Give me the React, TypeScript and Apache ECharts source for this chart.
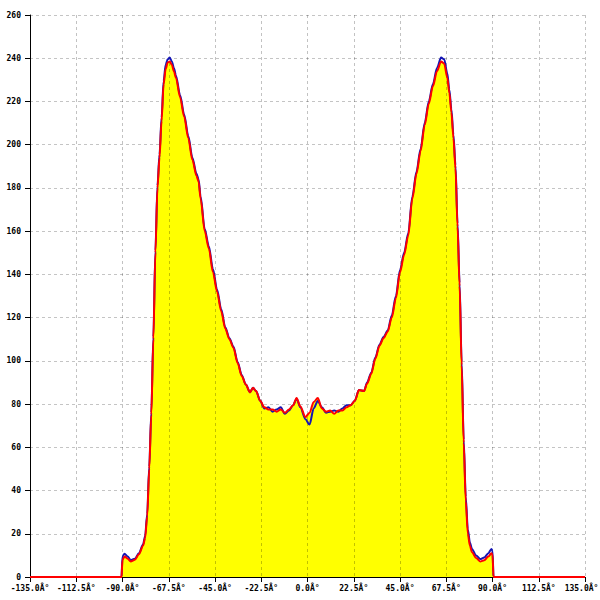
import React, { useEffect, useRef } from "react";
import * as echarts from "echarts";

const xDeg = [
  -135, -90.5, -90, -89, -87.5, -86, -84, -82, -80, -79, -78, -77, -76, -75, -74, -73, -72, -71, -70, -69,
  -68, -67, -66, -65, -64, -62, -60, -58, -56, -54, -53, -52, -50, -48, -46, -44, -42, -40, -38, -36,
  -34, -32, -30, -28, -26.5, -25, -23, -21, -19, -17, -15, -13, -11, -9, -7, -5.3, -3.5, -1, 1, 3,
  5, 7, 9, 11, 13, 15, 17, 19, 21, 23, 25, 27.5, 29, 31, 33, 35, 37, 39, 41, 43,
  45, 47, 49, 51, 53, 55, 57, 59, 61, 63, 65, 66.5, 68, 69, 70, 71, 72, 73, 74, 75,
  76, 77, 78, 79, 80, 82, 84, 86, 88, 89.5, 90, 90.5, 135,
];

const redVals = [
  0, 0, 8, 9.5, 8.5, 7.2, 8, 10.5, 14.5, 18, 28, 50, 75, 110, 150, 180, 194, 211, 228, 235,
  238, 238.5, 237, 234, 231, 222, 213, 203, 193, 185.5, 183, 175, 160, 152, 141, 132, 123, 115, 110, 106,
  99, 93, 89, 85.5, 87.5, 86, 81.5, 78.5, 77.5, 77.5, 76.5, 77.5, 76, 77.5, 79.5, 82.8, 79, 74, 76, 81,
  82.8, 78, 76.5, 77, 75.5, 77, 77, 78.5, 79.5, 81.5, 86.5, 86, 89.5, 94, 101, 107, 110.5, 113.5, 120, 129,
  141, 149, 158, 175, 186.5, 197, 209, 219, 227, 234, 238.5, 237.5, 231, 224, 215, 203, 189, 162, 134.5, 98,
  62, 35, 20, 14.5, 11.5, 8.8, 7.2, 7.8, 9.5, 11, 10.5, 0, 0,
];

const blueVals = [
  0, 0, 9.5, 10.8, 9.5, 7.8, 8.5, 11, 15, 19, 29, 51, 76, 111, 151, 181, 195.5, 212.5, 229.5, 237,
  239.5, 240.3, 238.5, 235.5, 232, 223, 214, 204, 194, 186.5, 184, 176, 161, 153, 142.5, 133, 124, 115.5, 110.5, 106.5,
  99.5, 93.5, 89, 85.5, 87.5, 86, 81.5, 78, 78.5, 76.5, 77.5, 78.5, 75.5, 77, 79.5, 82.5, 78.5, 73, 70.5, 78,
  81.4, 78.5, 76, 76.5, 77, 76.5, 78, 79.5, 79.5, 81.5, 86.5, 86, 90, 94.5, 101.5, 107.5, 111, 114, 121, 130,
  142, 150, 159, 176, 187.5, 198, 210, 220, 228, 235.5, 240.3, 239.5, 233, 225.5, 216.5, 204.5, 190.5, 163.5, 136, 99.5,
  63.5, 37, 22, 16, 13, 10, 8.3, 9, 11, 13, 12, 0, 0,
];

const X_MIN = -135;
const X_MAX = 135;
const X_STEP = 22.5;
const Y_MIN = 0;
const Y_MAX = 260;
const Y_STEP = 20;

export default function App() {
  const ref = useRef<HTMLDivElement>(null);

  useEffect(() => {
    if (!ref.current) return;
    const chart = echarts.init(ref.current, undefined, { renderer: "svg" });
    const red = xDeg.map((x, i) => [x, redVals[i]]);
    const blue = xDeg.map((x, i) => [x, blueVals[i]]);
    const labelFont = {
      fontFamily: "DejaVu Sans Mono",
      fontSize: 8,
      fontWeight: "bold" as const,
      color: "#000",
    };
    chart.setOption({
      animation: false,
      backgroundColor: "#ffffff",
      grid: {
        left: 30,
        right: 15,
        top: 15,
        bottom: 23,
        containLabel: false,
        outerBoundsMode: "none",
      },
      xAxis: [
        {
          type: "value",
          min: X_MIN,
          max: X_MAX,
          interval: X_STEP,
          axisLine: { show: true, onZero: false, lineStyle: { color: "#000", width: 1 } },
          axisTick: { show: true, length: 5, lineStyle: { color: "#000" } },
          axisLabel: {
            ...labelFont,
            margin: 7,
            hideOverlap: false,
            showMinLabel: true,
            showMaxLabel: true,
            formatter: (v: number) => {
              const t = v.toFixed(1) + "Â°";
              return v === X_MAX ? "{last|" + t + "}" : t;
            },
            rich: {
              last: { ...labelFont, padding: [0, 7, 0, 0] },
            },
          },
          splitLine: { show: false },
          z: 0,
        },
        {
          type: "value",
          min: X_MIN,
          max: X_MAX,
          interval: X_STEP,
          position: "bottom",
          axisLine: { show: false },
          axisTick: { show: false },
          axisLabel: { show: false },
          splitLine: {
            show: true,
            lineStyle: { color: "rgba(0,0,0,0.24)", type: [3, 3], width: 1 },
          },
          z: 2,
        },
      ],
      yAxis: {
        type: "value",
        min: Y_MIN,
        max: Y_MAX,
        interval: Y_STEP,
        axisLine: { show: true, onZero: false, lineStyle: { color: "#000", width: 1 } },
        axisTick: { show: true, length: 5, lineStyle: { color: "#000" } },
        axisLabel: { ...labelFont, margin: 9, showMinLabel: true, showMaxLabel: true },
        splitLine: {
          show: true,
          lineStyle: { color: "#c4c4c4", type: [3, 3], width: 1 },
        },
      },
      series: [
        {
          name: "fill",
          type: "line",
          data: red,
          showSymbol: false,
          smooth: 0.3,
          smoothMonotone: "x",
          lineStyle: { width: 0, opacity: 0 },
          areaStyle: { color: "#ffff00", opacity: 1 },
          z: 1,
          silent: true,
        },
        {
          name: "blue",
          type: "line",
          data: blue,
          showSymbol: false,
          smooth: 0.3,
          smoothMonotone: "x",
          lineStyle: { color: "#1414b4", width: 2 },
          z: 3,
        },
        {
          name: "red",
          type: "line",
          data: red,
          showSymbol: false,
          smooth: 0.3,
          smoothMonotone: "x",
          lineStyle: { color: "#ff0000", width: 2 },
          z: 4,
        },
      ],
    });
    return () => chart.dispose();
  }, []);

  return (
    <div
      ref={ref}
      style={{ position: "fixed", left: 0, top: 0, width: 600, height: 600, background: "#fff" }}
    />
  );
}
